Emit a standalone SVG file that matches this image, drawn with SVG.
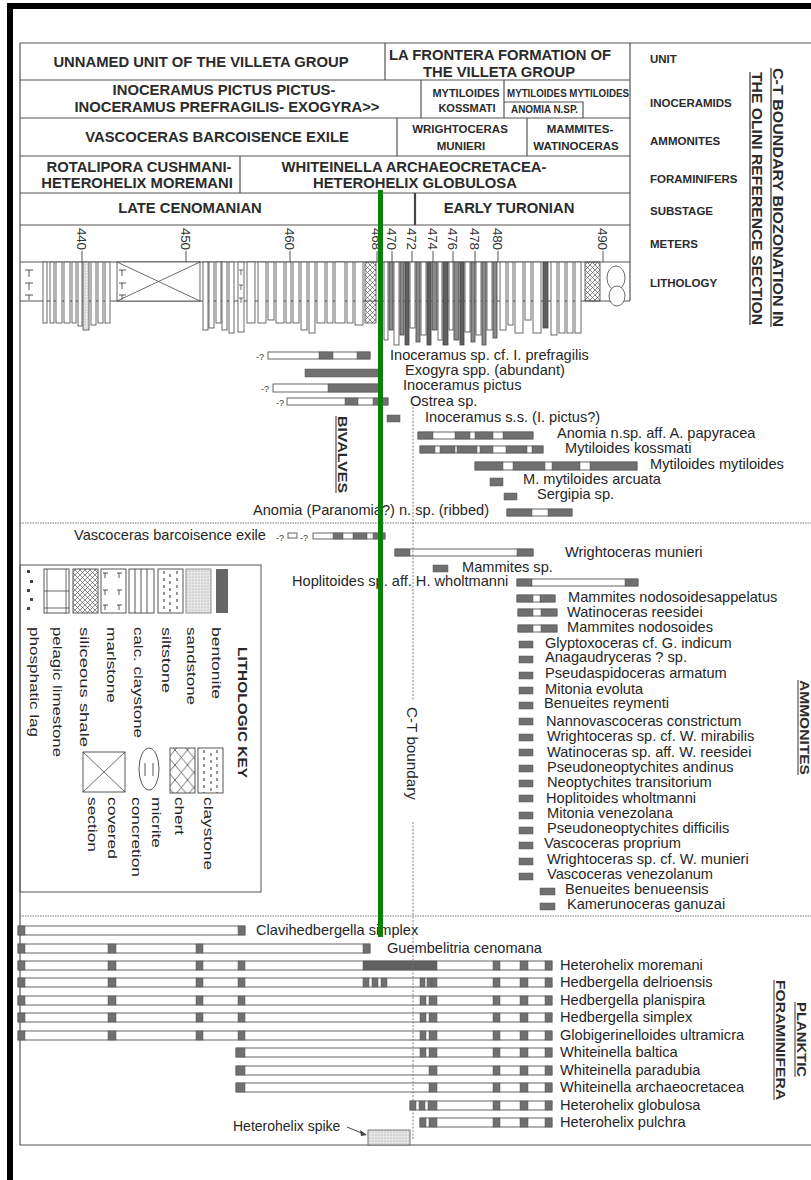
<svg xmlns="http://www.w3.org/2000/svg" width="811" height="1180" viewBox="0 0 811 1180">
<defs>
<style>
.hb{font-family:"Liberation Sans",Arial,sans-serif;font-weight:bold;font-size:14.8px;fill:#2b2b2b;text-anchor:middle}
.hm{font-family:"Liberation Sans",Arial,sans-serif;font-weight:bold;font-size:11.5px;fill:#2b2b2b;text-anchor:middle}
.hs{font-family:"Liberation Sans",Arial,sans-serif;font-weight:bold;font-size:10px;fill:#2b2b2b}
.rl{font-family:"Liberation Sans",Arial,sans-serif;font-weight:bold;font-size:11.5px;fill:#2b2b2b}
.vt{font-family:"Liberation Sans",Arial,sans-serif;font-weight:bold;font-size:15px;fill:#2b2b2b}
.sp{font-family:"Liberation Sans",Arial,sans-serif;font-size:14.6px;fill:#262626}
.lg{font-family:"Liberation Sans",Arial,sans-serif;font-size:13px;fill:#262626}
.mt{font-family:"Liberation Sans",Arial,sans-serif;font-size:13.5px;fill:#333}
.q{font-family:"Liberation Sans",Arial,sans-serif;font-size:9px;fill:#333}
.ln{stroke:#555;stroke-width:1.2;fill:none}
.ob{fill:#fff;stroke:#555;stroke-width:0.9}
.gb{fill:#707070;stroke:#555;stroke-width:0.5}
.dk{fill:#606060;stroke:#555;stroke-width:0.5}
.col{fill:#fff;stroke:#444;stroke-width:0.8}
.cg{fill:#8a8a8a;stroke:#444;stroke-width:0.8}
.cd{fill:#5f5f5f;stroke:#444;stroke-width:0.8}
.sw{fill:#fff;stroke:#444;stroke-width:0.9}
.dot{stroke:#777;stroke-width:1;stroke-dasharray:1.5 1;fill:none}
</style>
<pattern id="fine" width="5" height="5" patternUnits="userSpaceOnUse"><path d="M0 0L5 5M5 0L0 5" stroke="#444" stroke-width="0.6"/></pattern>
<pattern id="coarse" width="12.5" height="15" patternUnits="userSpaceOnUse"><path d="M0 0L12.5 15M12.5 0L0 15" stroke="#444" stroke-width="0.8"/></pattern>
<pattern id="stip" width="3" height="3" patternUnits="userSpaceOnUse"><rect width="3" height="3" fill="#e6e6e6"/><circle cx="1" cy="1" r="0.55" fill="#999"/></pattern>
</defs>

<!-- scanned-page black edge -->
<rect x="7" y="3" width="6" height="1177" fill="#000"/>
<rect x="7" y="3" width="804" height="6" fill="#000"/>

<!-- outer frame of the chart -->
<g id="frame">
<path class="ln" d="M20 43H811M20 43V1145H811"/>
</g>

<!-- zonation table -->
<g id="table">
<path class="ln" d="M630 43V301M20 80H630M20 118H630M20 156H630M20 193H630M20 225H630M20 262H630M20 301H630"/>
<path class="ln" d="M385 43V80M421 80V118M504 80V118M504 102H583V118M397 118V156M527 118V156M240 156V193"/>
<path stroke="#444" stroke-width="2.2" d="M415 193V225"/>
</g>

<g id="unit-row">
<text class="hb" x="201" y="67">UNNAMED UNIT OF THE VILLETA GROUP</text>
<text class="hb" x="500" y="60">LA FRONTERA FORMATION OF</text>
<text class="hb" x="499" y="77">THE VILLETA GROUP</text>
</g>
<g id="inoceramid-row">
<text class="hb" x="224" y="95">INOCERAMUS PICTUS PICTUS-</text>
<text class="hb" x="227" y="112">INOCERAMUS PREFRAGILIS- EXOGYRA&gt;&gt;</text>
<text class="hm" x="466" y="97" style="font-size:11px">MYTILOIDES</text>
<text class="hm" x="467" y="112" style="font-size:11px">KOSSMATI</text>
<text class="hs" x="507" y="97" textLength="122" lengthAdjust="spacingAndGlyphs">MYTILOIDES MYTILOIDES</text>
<text class="hs" x="511" y="113" textLength="67" lengthAdjust="spacingAndGlyphs">ANOMIA N.SP.</text>
</g>
<g id="ammonite-row">
<text class="hb" x="217" y="142">VASCOCERAS BARCOISENCE EXILE</text>
<text class="hm" x="460" y="133">WRIGHTOCERAS</text>
<text class="hm" x="461" y="150">MUNIERI</text>
<text class="hm" x="580" y="133">MAMMITES-</text>
<text class="hm" x="576" y="150">WATINOCERAS</text>
</g>
<g id="foraminifer-row">
<text class="hb" x="139" y="172">ROTALIPORA CUSHMANI-</text>
<text class="hb" x="137" y="188">HETEROHELIX MOREMANI</text>
<text class="hb" x="414" y="172">WHITEINELLA ARCHAEOCRETACEA-</text>
<text class="hb" x="415" y="188">HETEROHELIX GLOBULOSA</text>
</g>
<g id="substage-row">
<text class="hb" x="190" y="213">LATE CENOMANIAN</text>
<text class="hb" x="509" y="213">EARLY TURONIAN</text>
</g>

<g id="row-labels">
<text class="rl" x="650" y="63">UNIT</text>
<text class="rl" x="650" y="107">INOCERAMIDS</text>
<text class="rl" x="650" y="145">AMMONITES</text>
<text class="rl" x="650" y="183">FORAMINIFERS</text>
<text class="rl" x="650" y="215">SUBSTAGE</text>
<text class="rl" x="650" y="248">METERS</text>
<text class="rl" x="650" y="287">LITHOLOGY</text>
</g>

<g id="title">
<text class="vt" transform="translate(773,68) rotate(90)" textLength="259" lengthAdjust="spacingAndGlyphs">C-T BOUNDARY BIOZONATION IN</text>
<text class="vt" transform="translate(752,72) rotate(90)" textLength="253" lengthAdjust="spacingAndGlyphs">THE OLINI REFERENCE SECTION</text>
<path stroke="#333" stroke-width="1.2" d="M771 68V327M750 72V325"/>
</g>

<!-- meter scale -->
<g id="meters">
<text class="mt" transform="translate(77,228) rotate(90)" textLength="22">440</text>
<text class="mt" transform="translate(181,228) rotate(90)" textLength="22">450</text>
<text class="mt" transform="translate(285,228) rotate(90)" textLength="22">460</text>
<text class="mt" transform="translate(372,228) rotate(90)" textLength="22">468</text>
<text class="mt" transform="translate(387,228) rotate(90)" textLength="22">470</text>
<text class="mt" transform="translate(407,228) rotate(90)" textLength="22">472</text>
<text class="mt" transform="translate(428,228) rotate(90)" textLength="22">474</text>
<text class="mt" transform="translate(448,228) rotate(90)" textLength="22">476</text>
<text class="mt" transform="translate(470,228) rotate(90)" textLength="22">478</text>
<text class="mt" transform="translate(493,228) rotate(90)" textLength="22">480</text>
<text class="mt" transform="translate(598,228) rotate(90)" textLength="22">490</text>
<path stroke="#444" stroke-width="0.9" d="M82 251V262M186 251V262M290 251V262M377 251V262M392 251V262M412 251V262M433 251V262M453 251V262M475 251V262M498 251V262M603 251V262"/>
</g>

<!-- lithologic column -->
<g id="lithology">
<path stroke="#444" stroke-width="0.9" fill="none" d="M25 270h8M29 270v7M25 283h8M29 283v7M25 295h8M29 295v5"/>
<rect class="col" x="43" y="262" width="4" height="61"/>
<rect class="col" x="50" y="262" width="4" height="61"/>
<rect class="col" x="56" y="262" width="6" height="61"/>
<rect class="col" x="64" y="262" width="6" height="61"/>
<rect class="col" x="72" y="262" width="4" height="61"/>
<rect class="col" x="78" y="262" width="4" height="64"/>
<rect x="83" y="262" width="6" height="68" fill="url(#stip)" stroke="#444" stroke-width="0.8"/>
<rect class="col" x="91" y="262" width="5" height="63"/>
<rect class="col" x="98" y="262" width="5" height="61"/>
<rect class="col" x="105" y="262" width="5" height="61"/>
<rect class="col" x="117" y="262" width="83" height="39"/>
<path stroke="#444" stroke-width="0.8" d="M117 262L200 301M200 262L117 301"/>
<path stroke="#444" stroke-width="0.9" fill="none" d="M119 270h7M122 270v6M119 283h7M122 283v6M119 295h7M122 295v5"/>
<rect class="col" x="203" y="262" width="5" height="68"/>
<rect class="col" x="209" y="262" width="5" height="66"/>
<rect class="col" x="216" y="262" width="5" height="61"/>
<rect class="col" x="222" y="262" width="5" height="68"/>
<rect class="col" x="229" y="262" width="5" height="71"/>
<rect class="col" x="238" y="262" width="6" height="70"/>
<path stroke="#444" stroke-width="0.8" d="M239 270h4M241 270v5M239 285h4M241 285v5M239 298h4M241 298v5"/>
<rect class="col" x="247" y="262" width="8" height="61"/>
<rect class="col" x="258" y="262" width="8" height="61"/>
<rect class="col" x="268" y="262" width="6" height="58"/>
<rect class="col" x="276" y="262" width="8" height="61"/>
<rect class="col" x="286" y="262" width="5" height="61"/>
<rect class="col" x="293" y="262" width="6" height="61"/>
<rect class="col" x="301" y="262" width="6" height="68"/>
<rect class="col" x="309" y="262" width="6" height="71"/>
<rect class="col" x="317" y="262" width="8" height="61"/>
<rect class="col" x="327" y="262" width="6" height="61"/>
<rect class="col" x="335" y="262" width="10" height="61"/>
<rect class="col" x="347" y="262" width="6" height="61"/>
<rect class="col" x="355" y="262" width="8" height="63"/>
<rect x="365" y="262" width="11" height="61" fill="url(#fine)" stroke="#444" stroke-width="0.8"/>
<rect class="col" x="384" y="262" width="4" height="78"/>
<rect class="cg" x="389" y="262" width="4" height="68"/>
<rect class="col" x="394" y="262" width="5" height="83"/>
<rect class="cg" x="400" y="262" width="4" height="73"/>
<rect class="cd" x="405" y="262" width="4" height="83"/>
<rect class="col" x="410" y="262" width="5" height="66"/>
<rect class="cg" x="416" y="262" width="4" height="80"/>
<rect class="col" x="421" y="262" width="5" height="73"/>
<rect class="cd" x="427" y="262" width="4" height="83"/>
<rect class="cg" x="432" y="262" width="5" height="68"/>
<rect class="col" x="438" y="262" width="4" height="78"/>
<rect class="cd" x="443" y="262" width="5" height="83"/>
<rect class="col" x="449" y="262" width="4" height="68"/>
<rect class="cg" x="454" y="262" width="5" height="78"/>
<rect class="cd" x="460" y="262" width="4" height="83"/>
<rect class="col" x="465" y="262" width="5" height="70"/>
<rect class="cg" x="471" y="262" width="4" height="80"/>
<rect class="col" x="476" y="262" width="5" height="73"/>
<rect class="cg" x="482" y="262" width="4" height="83"/>
<rect class="col" x="487" y="262" width="5" height="68"/>
<rect class="cg" x="493" y="262" width="4" height="76"/>
<rect class="col" x="500" y="262" width="6" height="68"/>
<rect class="col" x="508" y="262" width="5" height="63"/>
<rect class="col" x="515" y="262" width="8" height="71"/>
<rect class="col" x="525" y="262" width="6" height="58"/>
<rect class="col" x="533" y="262" width="8" height="71"/>
<rect class="cd" x="543" y="262" width="5" height="66"/>
<rect class="col" x="551" y="262" width="6" height="73"/>
<rect class="col" x="559" y="262" width="6" height="71"/>
<rect class="col" x="567" y="262" width="6" height="71"/>
<rect class="col" x="575" y="262" width="6" height="71"/>
<rect x="585" y="262" width="15" height="39" fill="url(#fine)" stroke="#444" stroke-width="0.8"/>
<ellipse cx="616" cy="278" rx="9" ry="12" fill="#fff" stroke="#444" stroke-width="0.8"/>
<ellipse cx="617" cy="296" rx="8" ry="10" fill="#fff" stroke="#444" stroke-width="0.8"/>
</g>

<!-- section dividers -->
<path class="dot" d="M20 523H811M20 916H811"/>

<!-- bivalve ranges -->
<g id="bivalves">
<text class="vt" transform="translate(338,416) rotate(90)" style="font-size:13px" textLength="77" lengthAdjust="spacingAndGlyphs">BIVALVES</text>
<path stroke="#333" stroke-width="1" d="M336 416V493"/>
<text class="q" x="256" y="360">-?</text>
<rect class="ob" x="268" y="352" width="102" height="7"/>
<rect class="gb" x="319" y="352" width="14" height="7"/><rect class="gb" x="357" y="352" width="13" height="7"/>
<text class="sp" x="390" y="360">Inoceramus sp. cf. I. prefragilis</text>
<rect class="gb" x="305" y="369" width="75" height="8"/>
<text class="sp" x="405" y="375">Exogyra spp. (abundant)</text>
<text class="q" x="261" y="392">-?</text>
<rect class="ob" x="273" y="384" width="107" height="8"/>
<rect class="gb" x="328" y="384" width="52" height="8"/>
<text class="sp" x="403" y="390">Inoceramus pictus</text>
<text class="q" x="276" y="406">-?</text>
<rect class="ob" x="287" y="398" width="101" height="7"/>
<rect class="gb" x="345" y="398" width="13" height="7"/><rect class="gb" x="373" y="398" width="15" height="7"/>
<text class="sp" x="410" y="406">Ostrea sp.</text>
<rect class="gb" x="387" y="415" width="13" height="7"/>
<text class="sp" x="425" y="422">Inoceramus s.s. (I. pictus?)</text>
<rect class="ob" x="418" y="432" width="115" height="7"/>
<rect class="gb" x="418" y="432" width="15" height="7"/><rect class="gb" x="455" y="432" width="15" height="7"/><rect class="gb" x="475" y="432" width="18" height="7"/><rect class="gb" x="503" y="432" width="30" height="7"/>
<text class="sp" x="557" y="438">Anomia n.sp. aff. A. papyracea</text>
<rect class="ob" x="420" y="446" width="123" height="7"/>
<rect class="gb" x="420" y="446" width="15" height="7"/><rect class="gb" x="440" y="446" width="15" height="7"/><rect class="gb" x="457" y="446" width="20" height="7"/><rect class="gb" x="480" y="446" width="13" height="7"/><rect class="gb" x="506" y="446" width="21" height="7"/><rect class="gb" x="532" y="446" width="11" height="7"/>
<text class="sp" x="565" y="453">Mytiloides kossmati</text>
<rect class="ob" x="475" y="462" width="162" height="8"/>
<rect class="gb" x="475" y="462" width="28" height="8"/><rect class="gb" x="513" y="462" width="32" height="8"/><rect class="gb" x="552" y="462" width="28" height="8"/><rect class="gb" x="590" y="462" width="47" height="8"/>
<text class="sp" x="650" y="469">Mytiloides mytiloides</text>
<rect class="gb" x="490" y="478" width="13" height="8"/>
<text class="sp" x="523" y="484">M. mytiloides arcuata</text>
<rect class="gb" x="504" y="493" width="13" height="7"/>
<text class="sp" x="537" y="499">Sergipia sp.</text>
<text class="sp" x="253" y="515">Anomia (Paranomia?) n. sp. (ribbed)</text>
<rect class="ob" x="507" y="509" width="65" height="7"/>
<rect class="gb" x="507" y="509" width="25" height="7"/><rect class="gb" x="548" y="509" width="24" height="7"/>
</g>

<!-- ammonite ranges -->
<g id="ammonites">
<text class="vt" transform="translate(800,680) rotate(90)" style="font-size:13px" textLength="95" lengthAdjust="spacingAndGlyphs">AMMONITES</text>
<path stroke="#333" stroke-width="1" d="M798 680V775"/>
<text class="sp" x="74" y="540">Vascoceras barcoisence exile</text>
<text class="q" x="276" y="541">-?</text>
<rect class="ob" x="288" y="533" width="9" height="5"/>
<text class="q" x="300" y="541">-?</text>
<rect class="ob" x="313" y="533" width="72" height="6"/>
<rect class="gb" x="333" y="533" width="10" height="6"/><rect class="gb" x="353" y="533" width="14" height="6"/><rect class="gb" x="373" y="533" width="12" height="6"/>
<rect class="ob" x="395" y="549" width="138" height="7"/>
<rect class="gb" x="395" y="549" width="15" height="7"/><rect class="gb" x="517" y="549" width="16" height="7"/>
<text class="sp" x="565" y="557">Wrightoceras munieri</text>
<rect class="gb" x="433" y="565" width="15" height="7"/>
<text class="sp" x="462" y="572">Mammites sp.</text>
<text class="sp" x="292" y="586">Hoplitoides sp. aff. H. wholtmanni</text>
<rect class="ob" x="517" y="579" width="121" height="7"/>
<rect class="gb" x="517" y="579" width="15" height="7"/><rect class="gb" x="625" y="579" width="13" height="7"/>
<rect class="ob" x="517" y="595" width="38" height="7"/>
<rect class="gb" x="517" y="595" width="16" height="7"/><rect class="gb" x="540" y="595" width="15" height="7"/>
<text class="sp" x="568" y="602">Mammites nodosoidesappelatus</text>
<rect class="ob" x="518" y="609" width="39" height="7"/>
<rect class="gb" x="518" y="609" width="15" height="7"/><rect class="gb" x="541" y="609" width="16" height="7"/>
<text class="sp" x="567" y="617">Watinoceras reesidei</text>
<rect class="ob" x="518" y="625" width="39" height="7"/>
<rect class="gb" x="518" y="625" width="15" height="7"/><rect class="gb" x="541" y="625" width="16" height="7"/>
<text class="sp" x="567" y="632">Mammites nodosoides</text>
<rect class="gb" x="519" y="641" width="14" height="7"/>
<text class="sp" x="545" y="648">Glyptoxoceras cf. G. indicum</text>
<rect class="gb" x="519" y="656" width="14" height="7"/>
<text class="sp" x="545" y="662">Anagaudryceras ? sp.</text>
<rect class="gb" x="519" y="672" width="14" height="7"/>
<text class="sp" x="545" y="678">Pseudaspidoceras armatum</text>
<rect class="gb" x="519" y="687" width="14" height="7"/>
<text class="sp" x="545" y="694">Mitonia evoluta</text>
<rect class="gb" x="519" y="702" width="14" height="7"/>
<text class="sp" x="544" y="708">Benueites reymenti</text>
<rect class="gb" x="519" y="718" width="14" height="7"/>
<text class="sp" x="546" y="726">Nannovascoceras constrictum</text>
<rect class="gb" x="519" y="734" width="14" height="7"/>
<text class="sp" x="547" y="741">Wrightoceras sp. cf. W. mirabilis</text>
<rect class="gb" x="519" y="749" width="14" height="7"/>
<text class="sp" x="547" y="757">Watinoceras sp. aff. W. reesidei</text>
<rect class="gb" x="519" y="765" width="14" height="7"/>
<text class="sp" x="547" y="772">Pseudoneoptychites andinus</text>
<rect class="gb" x="519" y="780" width="14" height="7"/>
<text class="sp" x="547" y="787">Neoptychites transitorium</text>
<rect class="gb" x="519" y="795" width="14" height="7"/>
<text class="sp" x="546" y="803">Hoplitoides wholtmanni</text>
<rect class="gb" x="519" y="812" width="14" height="7"/>
<text class="sp" x="547" y="818">Mitonia venezolana</text>
<rect class="gb" x="519" y="827" width="14" height="7"/>
<text class="sp" x="547" y="833">Pseudoneoptychites difficilis</text>
<rect class="gb" x="519" y="842" width="14" height="7"/>
<text class="sp" x="544" y="848">Vascoceras proprium</text>
<rect class="gb" x="519" y="858" width="14" height="7"/>
<text class="sp" x="547" y="864">Wrightoceras sp. cf. W. munieri</text>
<rect class="gb" x="519" y="873" width="14" height="7"/>
<text class="sp" x="547" y="879">Vascoceras venezolanum</text>
<rect class="gb" x="540" y="888" width="15" height="7"/>
<text class="sp" x="565" y="894">Benueites benueensis</text>
<rect class="gb" x="540" y="903" width="15" height="7"/>
<text class="sp" x="567" y="909">Kamerunoceras ganuzai</text>
</g>

<!-- lithologic key -->
<g id="legend">
<rect x="20" y="565" width="241" height="327" fill="none" stroke="#555" stroke-width="1"/>
<g fill="#444"><rect x="27" y="570" width="3" height="3"/><rect x="30" y="580" width="3" height="3"/><rect x="27" y="589" width="3" height="3"/><rect x="30" y="598" width="3" height="3"/><rect x="27" y="607" width="3" height="3"/></g>
<rect class="sw" x="44" y="569" width="25" height="44"/>
<path stroke="#444" stroke-width="0.8" d="M44 591H69M44 608H69M47 569V613M66 569V613"/>
<rect x="73" y="569" width="25" height="44" fill="url(#fine)" stroke="#444" stroke-width="0.9"/>
<rect class="sw" x="101" y="569" width="25" height="44"/>
<path stroke="#444" stroke-width="0.9" fill="none" d="M103 573h5M105 573v5M117 573h5M119 573v5M103 590h5M105 590v5M117 590h5M119 590v5M103 605h5M105 605v5M117 605h5M119 605v5"/>
<rect class="sw" x="129" y="569" width="25" height="44"/>
<path stroke="#444" stroke-width="0.9" d="M135 569V613M141 569V613M147 569V613"/>
<rect class="sw" x="158" y="569" width="25" height="44"/>
<path stroke="#444" stroke-width="1.1" stroke-dasharray="3 4" d="M164 571V613M170 574V613M177 571V613"/>
<rect x="186" y="569" width="25" height="44" fill="url(#stip)" stroke="#888" stroke-width="0.9"/>
<rect x="216" y="569" width="12" height="44" fill="#666"/>
<text class="lg" transform="translate(30,627) rotate(90)" textLength="110" lengthAdjust="spacingAndGlyphs">phosphatic lag</text>
<text class="lg" transform="translate(53,627) rotate(90)" textLength="130" lengthAdjust="spacingAndGlyphs">pelagic limestone</text>
<text class="lg" transform="translate(80,627) rotate(90)" textLength="120" lengthAdjust="spacingAndGlyphs">siliceous shale</text>
<text class="lg" transform="translate(107,627) rotate(90)" textLength="76" lengthAdjust="spacingAndGlyphs">marlstone</text>
<text class="lg" transform="translate(134,627) rotate(90)" textLength="111" lengthAdjust="spacingAndGlyphs">calc. claystone</text>
<text class="lg" transform="translate(162,627) rotate(90)" textLength="66" lengthAdjust="spacingAndGlyphs">siltstone</text>
<text class="lg" transform="translate(187,627) rotate(90)" textLength="78" lengthAdjust="spacingAndGlyphs">sandstone</text>
<text class="lg" transform="translate(212,627) rotate(90)" textLength="72" lengthAdjust="spacingAndGlyphs">bentonite</text>
<text class="lg" transform="translate(238,647) rotate(90)" style="font-weight:bold" textLength="131" lengthAdjust="spacingAndGlyphs">LITHOLOGIC KEY</text>
<rect class="sw" x="198" y="748" width="25" height="45"/>
<path stroke="#444" stroke-width="1.1" stroke-dasharray="3 4" d="M204 750V793M211 753V793M217 750V793"/>
<rect x="170" y="748" width="25" height="45" fill="url(#coarse)" stroke="#444" stroke-width="0.9"/>
<ellipse cx="149" cy="769" rx="10" ry="21" fill="#fff" stroke="#444" stroke-width="0.9"/>
<path stroke="#444" stroke-width="0.9" d="M145 763V776M153 763V776"/>
<rect class="sw" x="83" y="752" width="42" height="40"/>
<path stroke="#444" stroke-width="0.8" d="M83 752L125 792M125 752L83 792"/>
<text class="lg" transform="translate(204,797) rotate(90)" textLength="73" lengthAdjust="spacingAndGlyphs">claystone</text>
<text class="lg" transform="translate(175,797) rotate(90)" textLength="38" lengthAdjust="spacingAndGlyphs">chert</text>
<text class="lg" transform="translate(152,797) rotate(90)" textLength="51" lengthAdjust="spacingAndGlyphs">micrite</text>
<text class="lg" transform="translate(132,797) rotate(90)" textLength="80" lengthAdjust="spacingAndGlyphs">concretion</text>
<text class="lg" transform="translate(108,797) rotate(90)" textLength="62" lengthAdjust="spacingAndGlyphs">covered</text>
<text class="lg" transform="translate(88,797) rotate(90)" textLength="55" lengthAdjust="spacingAndGlyphs">section</text>
</g>

<!-- planktic foraminifera ranges -->
<g id="foraminifera">
<text class="vt" transform="translate(797,1002) rotate(90)" style="font-size:13px" textLength="75" lengthAdjust="spacingAndGlyphs">PLANKTIC</text>
<text class="vt" transform="translate(776,980) rotate(90)" style="font-size:13px" textLength="120" lengthAdjust="spacingAndGlyphs">FORAMINIFERA</text>
<path stroke="#333" stroke-width="1" d="M795 1002V1077M774 980V1100"/>

<rect class="ob" x="18" y="926" width="227" height="9"/>
<rect class="gb" x="18" y="926" width="7" height="9"/><rect class="gb" x="238" y="926" width="7" height="9"/>
<text class="sp" x="256" y="935">Clavihedbergella simplex</text>

<rect class="ob" x="18" y="944" width="352" height="9"/>
<rect class="gb" x="18" y="944" width="7" height="9"/><rect class="gb" x="108" y="944" width="8" height="9"/><rect class="gb" x="196" y="944" width="7" height="9"/><rect class="gb" x="363" y="944" width="7" height="9"/>
<text class="sp" x="387" y="953">Guembelitria cenomana</text>

<rect class="ob" x="18" y="961" width="534" height="9"/>
<rect class="gb" x="18" y="961" width="7" height="9"/><rect class="gb" x="108" y="961" width="8" height="9"/><rect class="gb" x="196" y="961" width="7" height="9"/><rect class="gb" x="238" y="961" width="7" height="9"/>
<rect class="dk" x="363" y="961" width="74" height="9"/>
<rect class="gb" x="493" y="961" width="7" height="9"/><rect class="gb" x="520" y="961" width="8" height="9"/><rect class="gb" x="545" y="961" width="7" height="9"/>
<text class="sp" x="560" y="970">Heterohelix moremani</text>

<rect class="ob" x="18" y="978" width="534" height="9"/>
<rect class="gb" x="18" y="978" width="7" height="9"/><rect class="gb" x="108" y="978" width="8" height="9"/><rect class="gb" x="196" y="978" width="7" height="9"/><rect class="gb" x="238" y="978" width="7" height="9"/>
<rect class="gb" x="363" y="978" width="6" height="9"/><rect class="gb" x="372" y="978" width="6" height="9"/><rect class="gb" x="381" y="978" width="6" height="9"/>
<rect class="gb" x="420" y="978" width="5" height="9"/><rect class="gb" x="427" y="978" width="5" height="9"/><rect class="gb" x="432" y="978" width="5" height="9"/>
<rect class="gb" x="493" y="978" width="7" height="9"/><rect class="gb" x="520" y="978" width="8" height="9"/><rect class="gb" x="545" y="978" width="7" height="9"/>
<text class="sp" x="560" y="987">Hedbergella delrioensis</text>

<rect class="ob" x="18" y="996" width="534" height="9"/>
<rect class="gb" x="18" y="996" width="7" height="9"/><rect class="gb" x="108" y="996" width="8" height="9"/><rect class="gb" x="196" y="996" width="7" height="9"/><rect class="gb" x="238" y="996" width="7" height="9"/>
<rect class="gb" x="420" y="996" width="6" height="9"/><rect class="gb" x="429" y="996" width="8" height="9"/>
<rect class="gb" x="493" y="996" width="7" height="9"/><rect class="gb" x="520" y="996" width="8" height="9"/><rect class="gb" x="545" y="996" width="7" height="9"/>
<text class="sp" x="560" y="1005">Hedbergella planispira</text>

<rect class="ob" x="18" y="1013" width="534" height="9"/>
<rect class="gb" x="18" y="1013" width="7" height="9"/><rect class="gb" x="108" y="1013" width="8" height="9"/><rect class="gb" x="196" y="1013" width="7" height="9"/><rect class="gb" x="238" y="1013" width="7" height="9"/>
<rect class="gb" x="420" y="1013" width="6" height="9"/><rect class="gb" x="429" y="1013" width="8" height="9"/>
<rect class="gb" x="493" y="1013" width="7" height="9"/><rect class="gb" x="520" y="1013" width="8" height="9"/><rect class="gb" x="545" y="1013" width="7" height="9"/>
<text class="sp" x="560" y="1022">Hedbergella simplex</text>

<rect class="ob" x="18" y="1031" width="534" height="9"/>
<rect class="gb" x="18" y="1031" width="7" height="9"/><rect class="gb" x="108" y="1031" width="8" height="9"/><rect class="gb" x="196" y="1031" width="7" height="9"/><rect class="gb" x="238" y="1031" width="7" height="9"/>
<rect class="gb" x="420" y="1031" width="6" height="9"/><rect class="gb" x="429" y="1031" width="8" height="9"/>
<rect class="gb" x="493" y="1031" width="7" height="9"/><rect class="gb" x="520" y="1031" width="8" height="9"/><rect class="gb" x="545" y="1031" width="7" height="9"/>
<text class="sp" x="560" y="1040">Globigerinelloides ultramicra</text>

<rect class="ob" x="236" y="1048" width="316" height="9"/>
<rect class="gb" x="236" y="1048" width="9" height="9"/>
<rect class="gb" x="420" y="1048" width="6" height="9"/><rect class="gb" x="429" y="1048" width="8" height="9"/>
<rect class="gb" x="493" y="1048" width="7" height="9"/><rect class="gb" x="520" y="1048" width="8" height="9"/><rect class="gb" x="545" y="1048" width="7" height="9"/>
<text class="sp" x="560" y="1057">Whiteinella baltica</text>

<rect class="ob" x="236" y="1066" width="316" height="9"/>
<rect class="gb" x="236" y="1066" width="9" height="9"/><rect class="gb" x="429" y="1066" width="8" height="9"/>
<rect class="gb" x="493" y="1066" width="7" height="9"/><rect class="gb" x="520" y="1066" width="8" height="9"/><rect class="gb" x="545" y="1066" width="7" height="9"/>
<text class="sp" x="560" y="1075">Whiteinella paradubia</text>

<rect class="ob" x="236" y="1083" width="316" height="9"/>
<rect class="gb" x="236" y="1083" width="9" height="9"/><rect class="gb" x="429" y="1083" width="8" height="9"/>
<rect class="gb" x="493" y="1083" width="7" height="9"/><rect class="gb" x="520" y="1083" width="8" height="9"/><rect class="gb" x="545" y="1083" width="7" height="9"/>
<text class="sp" x="560" y="1092">Whiteinella archaeocretacea</text>

<rect class="ob" x="410" y="1101" width="142" height="9"/>
<rect class="gb" x="410" y="1101" width="6" height="9"/><rect class="gb" x="419" y="1101" width="6" height="9"/><rect class="gb" x="428" y="1101" width="9" height="9"/>
<rect class="gb" x="493" y="1101" width="7" height="9"/><rect class="gb" x="520" y="1101" width="8" height="9"/><rect class="gb" x="545" y="1101" width="7" height="9"/>
<text class="sp" x="560" y="1110">Heterohelix globulosa</text>

<rect class="ob" x="420" y="1118" width="132" height="9"/>
<rect class="gb" x="420" y="1118" width="6" height="9"/><rect class="gb" x="429" y="1118" width="8" height="9"/>
<rect class="gb" x="493" y="1118" width="7" height="9"/><rect class="gb" x="520" y="1118" width="8" height="9"/><rect class="gb" x="545" y="1118" width="7" height="9"/>
<text class="sp" x="560" y="1127">Heterohelix pulchra</text>
</g>

<g id="heterohelix-spike">
<rect x="368" y="1130" width="42" height="15" fill="url(#stip)" stroke="#666" stroke-width="0.9"/>
<text class="sp" x="233" y="1131" style="font-size:14px">Heterohelix spike</text>
</g>

<!-- connectors: C-T boundary trace, spike leader, boundary marker -->
<g id="connectors">
<path d="M413 407V700M413 822V1140" stroke="#777" stroke-width="0.9" stroke-dasharray="2 1.5" fill="none"/>
<text class="sp" transform="translate(407,707) rotate(90)" style="font-size:14px" textLength="93" lengthAdjust="spacingAndGlyphs">C-T boundary</text>
<path d="M347 1127L364 1134" stroke="#444" stroke-width="1" fill="none"/>
<path d="M367 1135L360 1130L361 1136Z" fill="#444"/>
<path d="M380.5 190V937" stroke="#0a7f0a" stroke-width="5"/>
</g>
</svg>
